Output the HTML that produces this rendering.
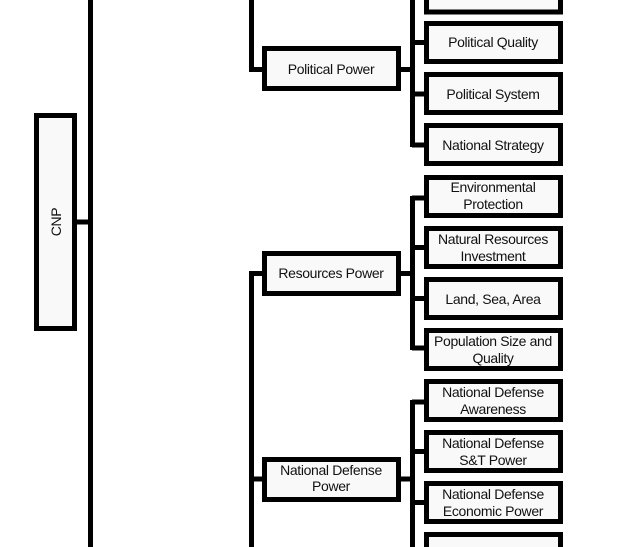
<!DOCTYPE html>
<html><head><meta charset="utf-8"><style>
html,body{margin:0;padding:0;background:#fff;}
svg{display:block;}
text{font-family:"Liberation Sans",Arial,sans-serif;font-size:14px;fill:#111;text-anchor:middle;letter-spacing:-0.35px;}
</style></head><body>
<svg width="623" height="547" viewBox="0 0 623 547" xmlns="http://www.w3.org/2000/svg">
<g fill="none" stroke="#000" stroke-width="5">
<line x1="90.5" y1="0" x2="90.5" y2="547"/>
<line x1="77" y1="222" x2="91" y2="222"/>
<polyline points="251.5,0 251.5,69.5 263,69.5"/>
<polyline points="263,273.5 251.5,273.5 251.5,547"/>
<line x1="251.5" y1="479" x2="263" y2="479"/>
<line x1="401" y1="69.5" x2="413" y2="69.5"/>
<line x1="412.5" y1="0" x2="412.5" y2="147"/>
<line x1="412" y1="42.5" x2="425" y2="42.5"/>
<line x1="412" y1="94" x2="425" y2="94"/>
<line x1="412" y1="145" x2="425" y2="145"/>
<line x1="401" y1="273.5" x2="413" y2="273.5"/>
<line x1="412.5" y1="196" x2="412.5" y2="350"/>
<line x1="412" y1="198" x2="425" y2="198"/>
<line x1="412" y1="247.5" x2="425" y2="247.5"/>
<line x1="412" y1="298.5" x2="425" y2="298.5"/>
<line x1="412" y1="348" x2="425" y2="348"/>
<line x1="401" y1="479" x2="413" y2="479"/>
<line x1="412.5" y1="400" x2="412.5" y2="547"/>
<line x1="412" y1="402" x2="425" y2="402"/>
<line x1="412" y1="451.5" x2="425" y2="451.5"/>
<line x1="412" y1="502.5" x2="425" y2="502.5"/>
</g>
<g fill="#f9f9f9" stroke="#000" stroke-width="5">
<rect x="36.5" y="115.5" width="38" height="213"/>
<rect x="264.5" y="48.5" width="134" height="40"/>
<rect x="264.5" y="253.5" width="134" height="40"/>
<rect x="264.5" y="459.5" width="134" height="40"/>
<rect x="426.5" y="-20" width="134" height="32"/>
<rect x="426.5" y="23.5" width="134" height="38"/>
<rect x="426.5" y="74.5" width="134" height="38"/>
<rect x="426.5" y="125.5" width="134" height="38"/>
<rect x="426.5" y="177.5" width="134" height="38"/>
<rect x="426.5" y="228.5" width="134" height="38"/>
<rect x="426.5" y="279.5" width="134" height="38"/>
<rect x="426.5" y="330.5" width="134" height="38"/>
<rect x="426.5" y="381.5" width="134" height="38"/>
<rect x="426.5" y="432.5" width="134" height="38"/>
<rect x="426.5" y="483.5" width="134" height="38"/>
<rect x="426.5" y="534.5" width="134" height="38"/>
</g>
<text transform="translate(61,222) rotate(-90)">CNP</text>
<text x="331" y="74">Political Power</text>
<text x="331" y="278">Resources Power</text>
<text x="331" y="475">National Defense</text>
<text x="331" y="491">Power</text>
<text x="493" y="47">Political Quality</text>
<text x="493" y="99">Political System</text>
<text x="493" y="150">National Strategy</text>
<text x="493" y="192">Environmental</text>
<text x="493" y="209">Protection</text>
<text x="493" y="244">Natural Resources</text>
<text x="493" y="261">Investment</text>
<text x="493" y="304">Land, Sea, Area</text>
<text x="493" y="346">Population Size and</text>
<text x="493" y="363">Quality</text>
<text x="493" y="397">National Defense</text>
<text x="493" y="414">Awareness</text>
<text x="493" y="448">National Defense</text>
<text x="493" y="465">S&amp;T Power</text>
<text x="493" y="499">National Defense</text>
<text x="493" y="516">Economic Power</text>
</svg>
</body></html>
